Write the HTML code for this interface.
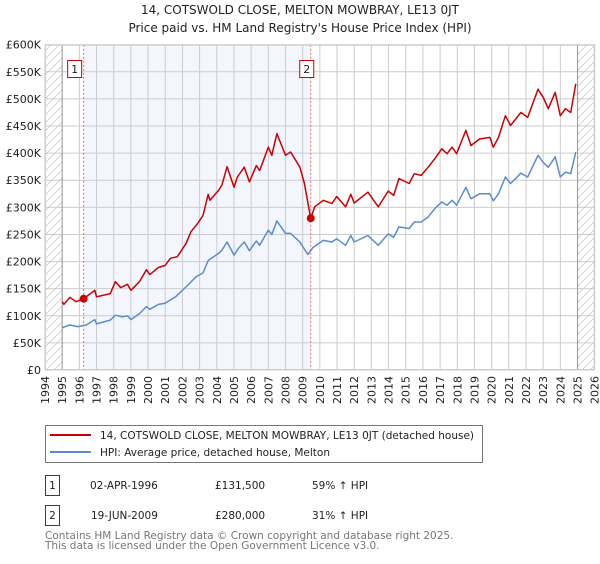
<!DOCTYPE html>
<html><head><meta charset="utf-8"><style>
body{margin:0;background:#fff;font-family:"DejaVu Sans","Liberation Sans",sans-serif;}
svg text{font-family:"DejaVu Sans","Liberation Sans",sans-serif;}
</style></head><body>
<svg id="c" width="600" height="560" xmlns="http://www.w3.org/2000/svg">
<defs><pattern id="hatch" width="8" height="8" patternUnits="userSpaceOnUse"><path d="M0,8 L8,0" stroke="#ccc" stroke-width="0.8"/></pattern></defs>
<text x="300" y="14" text-anchor="middle" font-size="12" fill="#222">14, COTSWOLD CLOSE, MELTON MOWBRAY, LE13 0JT</text>
<text x="300" y="32" text-anchor="middle" font-size="12" fill="#222">Price paid vs. HM Land Registry's House Price Index (HPI)</text>
<g id="plot"></g>
<g>
<rect x="45.5" y="425.5" width="437" height="37" fill="#fff" stroke="#777"/>
<line x1="50" y1="435" x2="91" y2="435" stroke="#cc0000" stroke-width="2"/>
<text x="100" y="439" font-size="10.5" fill="#222">14, COTSWOLD CLOSE, MELTON MOWBRAY, LE13 0JT (detached house)</text>
<line x1="50" y1="452" x2="91" y2="452" stroke="#5b8ccf" stroke-width="2"/>
<text x="100" y="456" font-size="10.5" fill="#222">HPI: Average price, detached house, Melton</text>
</g>
<g font-size="10.5" fill="#222">
<rect x="45.5" y="475.5" width="14" height="20" fill="#fff" stroke="#cc0000"/>
<text x="52.5" y="489" text-anchor="middle">1</text>
<text x="90" y="489">02-APR-1996</text><text x="215" y="489">£131,500</text><text x="312" y="489">59% ↑ HPI</text>
<rect x="45.5" y="505.5" width="14" height="20" fill="#fff" stroke="#cc0000"/>
<text x="52.5" y="519" text-anchor="middle">2</text>
<text x="91" y="519">19-JUN-2009</text><text x="215" y="519">£280,000</text><text x="312" y="519">31% ↑ HPI</text>
</g>
<text x="45" y="539" font-size="10.5" fill="#777">Contains HM Land Registry data © Crown copyright and database right 2025.</text>
<text x="45" y="549" font-size="10.5" fill="#777">This data is licensed under the Open Government Licence v3.0.</text>
</svg>
<script>
const hpiYears=[1995.0,1995.45,1995.9,1996.4,1996.9,1997.0,1997.8,1998.1,1998.5,1998.8,1999.0,1999.5,1999.9,2000.1,2000.6,2001.0,2001.6,2002.2,2002.8,2003.2,2003.5,2004.1,2004.3,2004.6,2005.0,2005.3,2005.6,2005.9,2006.3,2006.5,2007.0,2007.2,2007.5,2008.0,2008.3,2008.84,2009.3,2009.6,2010.2,2010.7,2010.98,2011.5,2011.8,2012.0,2012.8,2013.4,2013.98,2014.3,2014.6,2015.2,2015.5,2015.9,2016.3,2016.7,2017.1,2017.4,2017.7,2017.96,2018.5,2018.8,2019.3,2019.9,2020.1,2020.4,2020.8,2021.1,2021.4,2021.7,2022.1,2022.7,2023.0,2023.3,2023.7,2024.0,2024.3,2024.6,2024.9];
const hpiValues=[78,83,80,83,93,85,92,101,98,100,93,104,117,112,121,123,135,153,172,179,202,215,221,236,212,226,236,220,238,230,258,250,275,252,252,236,213,226,239,236,242,230,248,236,248,230,251,245,264,261,273,273,282,298,310,304,313,304,337,316,325,325,312,325,356,344,353,363,356,396,383,374,393,356,365,362,402];
const priceYears=[1995.0,1995.1,1995.45,1995.8,1996.25,1996.9,1997.0,1997.8,1998.1,1998.4,1998.8,1999.0,1999.5,1999.9,2000.1,2000.6,2001.0,2001.3,2001.7,2002.2,2002.5,2002.9,2003.2,2003.5,2003.6,2004.1,2004.3,2004.6,2005.0,2005.2,2005.6,2005.9,2006.3,2006.5,2007.0,2007.2,2007.5,2008.0,2008.3,2008.84,2009.1,2009.47,2009.7,2010.2,2010.7,2010.98,2011.5,2011.8,2012.0,2012.8,2013.4,2013.98,2014.3,2014.6,2015.2,2015.5,2015.9,2016.3,2016.7,2017.1,2017.4,2017.7,2017.96,2018.5,2018.8,2019.3,2019.9,2020.1,2020.4,2020.8,2021.1,2021.4,2021.7,2022.1,2022.7,2023.0,2023.3,2023.7,2024.0,2024.3,2024.6,2024.9];
const priceValues=[126,121,134,126,131.5,147,135,141,163,152,158,147,163,185,176,189,193,206,209,233,255,271,285,324,313,331,341,375,337,356,374,347,377,368,411,396,436,396,402,374,344,280,301,313,307,320,301,324,308,328,301,330,322,353,344,362,359,374,390,408,399,411,399,442,414,426,429,411,429,469,451,463,475,466,518,503,482,512,469,482,475,528];
const saleYears=[1996.25,2009.47];
const salePrices=[131.5,280];
const saleLabels=["1","2"];
const yTicks=[0,50,100,150,200,250,300,350,400,450,500,550,600];
const yTickLabels=["£0","£50K","£100K","£150K","£200K","£250K","£300K","£350K","£400K","£450K","£500K","£550K","£600K"];
const xTicks=[1994,1995,1996,1997,1998,1999,2000,2001,2002,2003,2004,2005,2006,2007,2008,2009,2010,2011,2012,2013,2014,2015,2016,2017,2018,2019,2020,2021,2022,2023,2024,2025,2026];

const L=45,R=594.7,T=44.7,B=370;
const X=y=>L+(y-1994)*(R-L)/32;
const Y=v=>B-v*(B-T)/600;
const NS="http://www.w3.org/2000/svg";
const g=document.getElementById('plot');
function mk(t,a,p){const e=document.createElementNS(NS,t);for(const k in a)e.setAttribute(k,a[k]);(p||g).appendChild(e);return e;}
let e;
e=mk('rect',{x:X(1996.25),y:T,width:X(2009.47)-X(1996.25),height:B-T,fill:'#f3f6fd'});


e=mk('rect',{x:L,y:T,width:X(1995)-L,height:B-T,fill:'url(#hatch)'});


e=mk('rect',{x:X(2025),y:T,width:R-X(2025),height:B-T,fill:'url(#hatch)'});


yTicks.forEach((v,i)=>{
 e=mk('line',{x1:L,x2:R,y1:Y(v),y2:Y(v),stroke:'#ccc','stroke-width':1});
 
 
 e=mk('text',{x:L-4,y:Y(v)+4,'text-anchor':'end','font-size':'11',fill:'#222'});
 e.textContent=yTickLabels[i];
 
 
});
xTicks.forEach(yr=>{
 e=mk('line',{x1:X(yr),x2:X(yr),y1:T,y2:B,stroke:'#ccc','stroke-width':1});
 
 
 e=mk('text',{x:0,y:0,'text-anchor':'end','font-size':'11',fill:'#222',transform:`translate(${X(yr)+4},${B+6}) rotate(-90)`});
 e.textContent=yr;
 
 
});
e=mk('line',{x1:X(1995),x2:X(1995),y1:T,y2:B,stroke:'#999','stroke-width':1});


e=mk('line',{x1:X(2025),x2:X(2025),y1:T,y2:B,stroke:'#999','stroke-width':1});


saleYears.forEach((yr,i)=>{
 e=mk('line',{x1:X(yr),x2:X(yr),y1:T,y2:B,stroke:'#e66','stroke-width':1,'stroke-dasharray':'2,2'});
 
 
 const bx=X(yr)-(i==0?16:11);
 e=mk('rect',{x:bx,y:60.5,width:14,height:17,fill:'#fff',stroke:'#cc0000'});
 
 
 e=mk('text',{x:bx+7,y:73,'text-anchor':'middle','font-size':'11',fill:'#222'});
 e.textContent=saleLabels[i];
 
 
});
e=mk('rect',{x:L+0.5,y:T+0.5,width:R-L-1,height:B-T-1,fill:'none',stroke:'#ccc'});


function path(xs,vs){return xs.map((x,i)=>(i?'L':'M')+X(x).toFixed(1)+','+Y(vs[i]).toFixed(1)).join('');}
e=mk('path',{d:path(hpiYears,hpiValues),fill:'none',stroke:'#5b8ccf','stroke-width':1.5,'stroke-linejoin':'round'});


e=mk('path',{d:path(priceYears,priceValues),fill:'none',stroke:'#cc0000','stroke-width':1.5,'stroke-linejoin':'round'});


saleYears.forEach((yr,i)=>{
 e=mk('circle',{cx:X(yr),cy:Y(salePrices[i]),r:4,fill:'#cc0000'});
 
 
});
</script>
</body></html>
